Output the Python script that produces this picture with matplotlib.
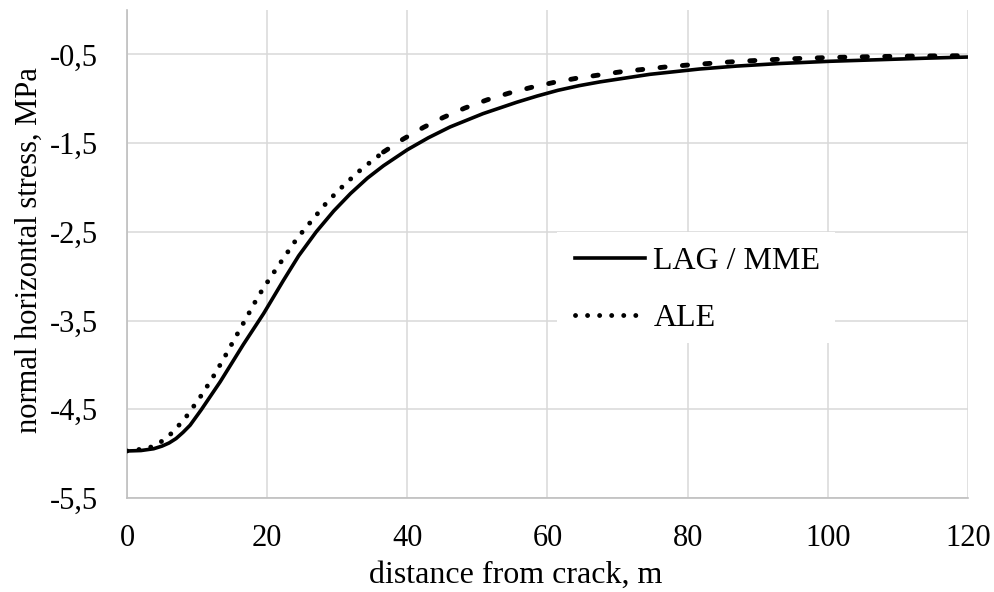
import matplotlib
matplotlib.use('Agg')
import matplotlib.pyplot as plt
from matplotlib.patches import Rectangle
from matplotlib.ticker import FuncFormatter

# LAG / MME curve
lag_x = [0, 2, 3.8, 5, 6, 7, 8, 9, 10.6, 13.3, 16.6, 19.5, 22.3, 24.5, 27, 29.5,
         31.9, 34.3, 36.6, 40, 43, 46.1, 50.8, 55.6, 58.5, 61.5, 64.5, 67.5,
         74.6, 81.7, 87, 93.2, 100.3, 107.4, 114, 120]
lag_y = [-4.97, -4.965, -4.945, -4.915, -4.88, -4.83, -4.76, -4.68, -4.505, -4.19,
         -3.77, -3.42, -3.05, -2.77, -2.5, -2.265, -2.068, -1.895, -1.755, -1.575,
         -1.44, -1.318, -1.168, -1.04, -0.97, -0.905, -0.853, -0.81, -0.725,
         -0.665, -0.632, -0.603, -0.578, -0.56, -0.543, -0.53]

# ALE curve
ale_x = [0, 1.6, 3.3, 4.8, 6.1, 7.3, 8.4, 9.3, 10.3, 11.2, 12.1, 13.8, 15.4,
         17.1, 18.7, 20.5, 22.4, 24.3, 26.4, 28.6, 31.0, 33.5, 36.6, 39.4, 42.3,
         45.1, 48.2, 51.4, 54.5, 57.7, 60.8, 64.1, 70.6, 77.1, 80.5, 87, 93.6,
         100.2, 106.7, 113.4, 120]
ale_y = [-4.97, -4.955, -4.93, -4.87, -4.79, -4.69, -4.59, -4.49, -4.38, -4.27,
         -4.16, -3.93, -3.70, -3.46, -3.23, -3.01, -2.79, -2.57, -2.37, -2.16,
         -1.97, -1.79, -1.60, -1.455, -1.323, -1.212, -1.105, -1.012, -0.937,
         -0.872, -0.818, -0.77, -0.695, -0.64, -0.617, -0.58, -0.553, -0.535,
         -0.525, -0.518, -0.515]

x_ticks = [0, 20, 40, 60, 80, 100, 120]
y_ticks = [-5.5, -4.5, -3.5, -2.5, -1.5, -0.5]

plt.rcParams['font.family'] = ['Liberation Serif', 'DejaVu Serif']

fig = plt.figure(figsize=(9.95, 5.92), dpi=100)
ax = fig.add_axes([127 / 995, 94 / 592, 841 / 995, 488 / 592])

# dotted where steep, short dashes where flat (as in the original)
split = 22
ax.plot(lag_x, lag_y, color='black', lw=2.6, label='LAG / MME', zorder=3)
ax.plot(ale_x[:split + 1], ale_y[:split + 1], color='black', lw=3.5,
        linestyle=(0, (0.01, 2.47)), dash_capstyle='round', label='ALE', zorder=4)
ax.plot(ale_x[split:], ale_y[split:], color='black', lw=3.5,
        linestyle=(0, (1.06, 3.57)), dash_capstyle='round', zorder=4)

ax.set_xlim(0, 120)
ax.set_ylim(-5.5, 0)
ax.set_xticks(x_ticks)
ax.set_yticks(y_ticks)
ax.yaxis.set_major_formatter(FuncFormatter(lambda v, p: ('%.1f' % v).replace('.', ',')))
ax.tick_params(length=0, labelsize=22)
ax.tick_params(axis='x', pad=19)
ax.tick_params(axis='y', pad=21)

ax.grid(True, color='#d9d9d9', lw=1.1)
ax.set_axisbelow(True)
for s in ['top', 'right']:
    ax.spines[s].set_visible(False)
for s in ['left', 'bottom']:
    ax.spines[s].set_color('#bfbfbf')
    ax.spines[s].set_linewidth(1.2)

ax.set_xlabel('distance from crack, m', fontsize=23)
ax.set_ylabel('normal horizontal stress, MPa', fontsize=22)
ax.xaxis.set_label_coords(0.4625, -0.129)
ax.yaxis.set_label_coords(-0.099, 0.508)

# white legend background covering the grid
ax.add_patch(Rectangle((0.5113, 0.3176), 0.3306, 0.2275, transform=ax.transAxes,
                       facecolor='white', edgecolor='none', zorder=1.5))
ax.legend(loc='upper left', bbox_to_anchor=(575 / 995, 345 / 592),
          bbox_transform=fig.transFigure, frameon=False, fontsize=23,
          borderpad=0, borderaxespad=0, handlelength=2.2, handletextpad=0.25,
          labelspacing=0.85)

fig.savefig('out.png', dpi=100)
